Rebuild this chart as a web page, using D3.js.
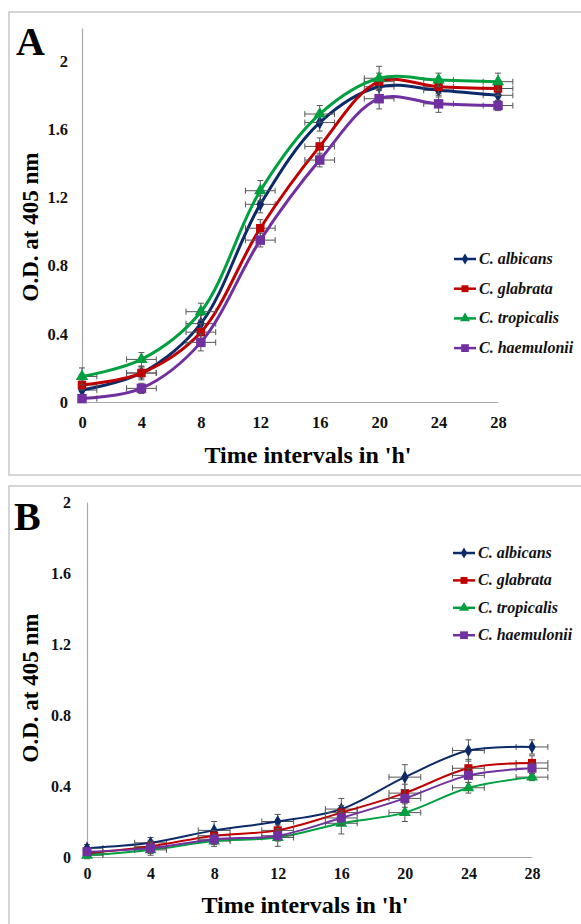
<!DOCTYPE html>
<html><head><meta charset="utf-8">
<script src="https://cdn.jsdelivr.net/npm/d3@7"></script>
<style>body{margin:0;background:#fff}svg{display:block}</style>
</head><body>
<svg id="c" width="581" height="924"></svg>
<script>
// ---- data ----
const hours = [0, 4, 8, 12, 16, 20, 24, 28];
const seriesNames = ["C. albicans", "C. glabrata", "C. tropicalis", "C. haemulonii"];
const seriesColors = ["#0c2a6a", "#c00000", "#00a040", "#7030a0"];
const seriesMarkers = ["diamond", "square", "triangle", "bigsquare"];
const yTicks = [0, 0.4, 0.8, 1.2, 1.6, 2];
const xTicks = [0, 4, 8, 12, 16, 20, 24, 28];

// Panel A values
const aAlbicans   = [0.07, 0.17, 0.46, 1.16, 1.64, 1.85, 1.83, 1.80];
const aGlabrata   = [0.10, 0.17, 0.41, 1.02, 1.50, 1.88, 1.85, 1.84];
const aTropicalis = [0.15, 0.25, 0.53, 1.24, 1.69, 1.90, 1.89, 1.88];
const aHaemulonii = [0.02, 0.08, 0.35, 0.95, 1.42, 1.78, 1.75, 1.74];
// Panel A error (y)
const aErrAlbicans   = [0.03, 0.04, 0.05, 0.05, 0.05, 0.05, 0.04, 0.03];
const aErrGlabrata   = [0.03, 0.03, 0.05, 0.05, 0.05, 0.05, 0.04, 0.04];
const aErrTropicalis = [0.05, 0.04, 0.05, 0.06, 0.05, 0.07, 0.04, 0.05];
const aErrHaemulonii = [0.02, 0.03, 0.05, 0.04, 0.04, 0.06, 0.05, 0.03];

// Panel B values
const bAlbicans   = [0.05, 0.08, 0.15, 0.20, 0.27, 0.45, 0.60, 0.62];
const bGlabrata   = [0.02, 0.06, 0.12, 0.15, 0.25, 0.36, 0.50, 0.53];
const bTropicalis = [0.01, 0.04, 0.09, 0.11, 0.19, 0.25, 0.39, 0.45];
const bHaemulonii = [0.03, 0.05, 0.10, 0.12, 0.22, 0.33, 0.46, 0.50];
// Panel B error (y)
const bErrAlbicans   = [0.02, 0.03, 0.05, 0.04, 0.06, 0.07, 0.06, 0.04];
const bErrGlabrata   = [0.02, 0.03, 0.03, 0.03, 0.04, 0.05, 0.05, 0.04];
const bErrTropicalis = [0.02, 0.03, 0.03, 0.05, 0.06, 0.05, 0.03, 0.02];
const bErrHaemulonii = [0.02, 0.03, 0.03, 0.03, 0.04, 0.05, 0.04, 0.03];
// horizontal error (h)
const xErr = 1;

const svg = d3.select("#c");
const serif = "'Liberation Serif','Times New Roman',serif";

function markerPath(kind, size) {
  if (kind === "diamond") return d3.symbol(d3.symbolDiamond, size * 0.9)();
  if (kind === "triangle") return d3.symbol(d3.symbolTriangle, size * 1.1)();
  if (kind === "bigsquare") return d3.symbol(d3.symbolSquare, size * 1.5)();
  return d3.symbol(d3.symbolSquare, size * 1.2)();
}

function drawPanel(cfg) {
  const g = svg.append("g");
  // frame
  g.append("rect").attr("x", cfg.frame[0]).attr("y", cfg.frame[1])
    .attr("width", cfg.frame[2]).attr("height", cfg.frame[3])
    .attr("fill", "none").attr("stroke", "#c8c8c8").attr("stroke-width", 1.5);

  const x = d3.scaleLinear().domain([0, 28]).range([cfg.x0, cfg.x1]);
  const y = d3.scaleLinear().domain([0, cfg.yMax]).range([cfg.y0, cfg.y1]);

  // axes
  const ya = g.append("g").attr("transform", `translate(${cfg.x0},0)`)
    .call(d3.axisLeft(y).tickValues(yTicks).tickSize(0).tickPadding(cfg.yPad).tickFormat(d3.format("")));
  ya.select(".domain").attr("stroke", "#a8a8a8").attr("stroke-width", 1.2);
  ya.selectAll("text").attr("font-family", serif).attr("font-weight", "bold")
    .attr("font-size", cfg.tickFont).attr("fill", "#111");

  const xa = g.append("g").attr("transform", `translate(0,${cfg.y0})`)
    .call(d3.axisBottom(x).tickValues(xTicks).tickSize(0).tickPadding(cfg.xPad).tickFormat(d3.format("")));
  xa.select(".domain").attr("stroke", "#a8a8a8").attr("stroke-width", 1.2);
  xa.selectAll("text").attr("font-family", serif).attr("font-weight", "bold")
    .attr("font-size", cfg.tickFont).attr("fill", "#111");

  // titles
  g.append("text").attr("x", cfg.xTitle[0]).attr("y", cfg.xTitle[1])
    .attr("text-anchor", "middle").attr("font-family", serif).attr("font-weight", "bold")
    .attr("font-size", 24).text("Time intervals in 'h'");
  g.append("text").attr("transform", `translate(${cfg.yTitle[0]},${cfg.yTitle[1]}) rotate(-90)`)
    .attr("text-anchor", "middle").attr("font-family", serif).attr("font-weight", "bold")
    .attr("font-size", 23).text("O.D. at 405 nm");
  g.append("text").attr("x", cfg.label[0]).attr("y", cfg.label[1])
    .attr("font-family", serif).attr("font-weight", "bold")
    .attr("font-size", 40).text(cfg.labelText);

  const line = d3.line().x(d => x(d.t)).y(d => y(d.v)).curve(d3.curveCatmullRom.alpha(0.5));

  cfg.series.forEach((s, i) => {
    const pts = hours.map((t, j) => ({ t, v: s.values[j], e: s.err[j] }));
    const col = seriesColors[i];
    // error bars
    const eb = g.append("g").attr("stroke", "#555").attr("stroke-width", 1).attr("fill", "none");
    pts.forEach(p => {
      const cx = x(p.t), cy = y(p.v);
      const yt = y(p.v + p.e), yb = y(p.v - p.e);
      eb.append("line").attr("x1", cx).attr("x2", cx).attr("y1", yt).attr("y2", yb);
      eb.append("line").attr("x1", cx - 3).attr("x2", cx + 3).attr("y1", yt).attr("y2", yt);
      eb.append("line").attr("x1", cx - 3).attr("x2", cx + 3).attr("y1", yb).attr("y2", yb);
      const xl = x(Math.max(0, p.t - xErr)), xr = x(p.t + xErr);
      eb.append("line").attr("x1", xl).attr("x2", xr).attr("y1", cy).attr("y2", cy);
      if (p.t > 0) eb.append("line").attr("x1", xl).attr("x2", xl).attr("y1", cy - 3).attr("y2", cy + 3);
      eb.append("line").attr("x1", xr).attr("x2", xr).attr("y1", cy - 3).attr("y2", cy + 3);
    });
    g.append("path").datum(pts).attr("d", line).attr("fill", "none")
      .attr("stroke", col).attr("stroke-width", cfg.lineW);
    g.selectAll(null).data(pts).join("path")
      .attr("transform", d => `translate(${x(d.t)},${y(d.v)})`)
      .attr("d", markerPath(seriesMarkers[i], cfg.markerSize)).attr("fill", col);
  });

  // legend
  const lg = g.append("g");
  seriesNames.forEach((n, i) => {
    const ly = cfg.legend[1] + i * cfg.legendStep;
    lg.append("line").attr("x1", cfg.legend[0]).attr("x2", cfg.legend[0] + 22)
      .attr("y1", ly).attr("y2", ly).attr("stroke", seriesColors[i]).attr("stroke-width", 2.5);
    lg.append("path").attr("transform", `translate(${cfg.legend[0] + 11},${ly})`)
      .attr("d", markerPath(seriesMarkers[i], 40)).attr("fill", seriesColors[i]);
    lg.append("text").attr("x", cfg.legend[0] + 25).attr("y", ly + 5)
      .attr("font-family", serif).attr("font-weight", "bold").attr("font-style", "italic")
      .attr("font-size", 16).attr("fill", "#111").text(n);
  });
}

drawPanel({
  frame: [9, 12, 574, 463],
  x0: 82, x1: 498, y0: 402, y1: 28, yMax: 2.195,
  yPad: 14, xPad: 14, tickFont: 16.5,
  xTitle: [308, 463], yTitle: [38, 227], label: [16, 55], labelText: "A",
  lineW: 3, markerSize: 60,
  legend: [454, 259], legendStep: 29.7,
  series: [
    { values: aAlbicans, err: aErrAlbicans },
    { values: aGlabrata, err: aErrGlabrata },
    { values: aTropicalis, err: aErrTropicalis },
    { values: aHaemulonii, err: aErrHaemulonii }
  ]
});

drawPanel({
  frame: [9, 486, 574, 460],
  x0: 87, x1: 532, y0: 857, y1: 502, yMax: 2,
  yPad: 16, xPad: 11, tickFont: 16,
  xTitle: [305, 913], yTitle: [38, 688], label: [14, 530], labelText: "B",
  lineW: 2, markerSize: 55,
  legend: [453, 553], legendStep: 27.4,
  series: [
    { values: bAlbicans, err: bErrAlbicans },
    { values: bGlabrata, err: bErrGlabrata },
    { values: bTropicalis, err: bErrTropicalis },
    { values: bHaemulonii, err: bErrHaemulonii }
  ]
});
</script>
</body></html>
